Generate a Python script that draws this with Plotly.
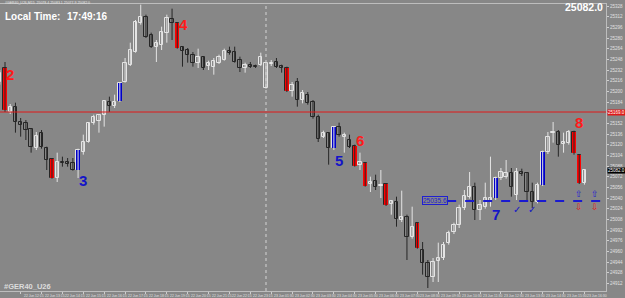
import plotly.graph_objects as go

# ---------------- data ----------------
bar_index = list(range(-1, 112))

open_ = [25214, 25235, 25169, 25177, 25154, 25152, 25144, 25115, 25138, 25115,
         25099, 25070, 25094, 25094, 25092, 25082, 25109, 25124, 25153, 25155,
         25165, 25184, 25178, 25186, 25214, 25240, 25259, 25303, 25312, 25285,
         25267, 25270, 25288, 25309, 25303, 25267, 25262, 25255, 25243, 25252,
         25238, 25237, 25243, 25247, 25261, 25259, 25247, 25235, 25240, 25238,
         25240, 25205, 25241, 25244, 25238, 25235, 25200, 25214, 25187, 25195,
         25184, 25162, 25132, 25138, 25115, 25147, 25132, 25127, 25118, 25090,
         25093, 25061, 25066, 25058, 25061, 25031, 25034, 25007, 25012, 24982,
         25003, 24962, 24943, 24922, 24946, 24950, 24973, 24989, 25000, 25025,
         25042, 25057, 25022, 25027, 25034, 25040, 25070, 25072, 25078, 25045,
         25079, 25078, 25049, 25034, 25060, 25109, 25138, 25139, 25121, 25123,
         25139, 25105, 25062]
high = [25232, 25244, 25181, 25183, 25160, 25157, 25145, 25139, 25142, 25117,
        25100, 25108, 25102, 25100, 25100, 25114, 25135, 25154, 25165, 25166,
        25187, 25192, 25195, 25214, 25250, 25273, 25307, 25330, 25315, 25288,
        25277, 25297, 25315, 25324, 25304, 25268, 25265, 25259, 25264, 25253,
        25246, 25250, 25255, 25264, 25267, 25267, 25252, 25243, 25244, 25240,
        25258, 25244, 25247, 25250, 25240, 25237, 25214, 25220, 25202, 25199,
        25187, 25165, 25141, 25139, 25148, 25153, 25138, 25135, 25120, 25108,
        25094, 25072, 25075, 25082, 25062, 25037, 25042, 25051, 25015, 25027,
        25004, 24974, 24947, 24950, 24973, 24974, 24991, 25003, 25030, 25052,
        25079, 25063, 25037, 25063, 25102, 25072, 25085, 25097, 25085, 25085,
        25084, 25079, 25063, 25063, 25111, 25139, 25154, 25142, 25138, 25142,
        25141, 25106, 25083]
low = [25210, 25169, 25166, 25138, 25132, 25127, 25108, 25112, 25114, 25082,
       25069, 25064, 25087, 25087, 25081, 25070, 25105, 25123, 25150, 25138,
       25147, 25169, 25175, 25184, 25213, 25238, 25258, 25300, 25280, 25265,
       25244, 25262, 25273, 25277, 25264, 25237, 25243, 25237, 25235, 25232,
       25232, 25225, 25241, 25246, 25255, 25243, 25229, 25228, 25235, 25235,
       25238, 25204, 25238, 25235, 25228, 25199, 25192, 25177, 25182, 25180,
       25159, 25124, 25130, 25090, 25112, 25132, 25108, 25115, 25087, 25082,
       25057, 25049, 25052, 25040, 25028, 25015, 24997, 25004, 24947, 24979,
       24964, 24925, 24905, 24914, 24914, 24947, 24970, 24986, 24995, 25022,
       25039, 25007, 25007, 25024, 25027, 25037, 25067, 25069, 25042, 25037,
       25073, 25037, 25025, 25032, 25058, 25106, 25123, 25102, 25108, 25120,
       25105, 25061, 25060]
close = [25228, 25172, 25177, 25154, 25150, 25142, 25117, 25133, 25117, 25097,
         25070, 25094, 25092, 25091, 25082, 25112, 25124, 25153, 25162, 25165,
         25186, 25178, 25184, 25213, 25243, 25262, 25304, 25312, 25282, 25267,
         25273, 25289, 25310, 25303, 25265, 25261, 25255, 25243, 25252, 25235,
         25243, 25246, 25252, 25261, 25258, 25244, 25235, 25240, 25237, 25237,
         25252, 25243, 25243, 25237, 25235, 25200, 25210, 25187, 25198, 25183,
         25162, 25128, 25138, 25115, 25147, 25135, 25135, 25117, 25088, 25094,
         25058, 25064, 25057, 25060, 25030, 25036, 25009, 25012, 24982, 24997,
         24965, 24943, 24922, 24944, 24950, 24970, 24988, 25000, 25025, 25043,
         25057, 25022, 25030, 25040, 25040, 25070, 25079, 25078, 25057, 25079,
         25076, 25049, 25034, 25060, 25109, 25132, 25139, 25120, 25124, 25139,
         25108, 25062, 25082]

red_bars = [0, 9, 33, 54, 67, 69, 73, 79, 109, 110]
blue_bars = [14, 22, 63, 94, 103]

sig_text = ["2", "3", "4", "5", "6", "7", "8"]
sig_bar = [1, 15, 34.2, 64, 68, 94, 110]
sig_price = [25226, 25066, 25301, 25097, 25126, 25015, 25154]

resistance_level = 25169.0
entry_level = 25035.6
current_price = 25082.0
local_time = "17:49:16"
symbol = "#GER40_U26"

check_bars = [98, 101]
check_price = 25023
arrow_bars = [110, 113]
arrow_up_price = 25046
arrow_down_price = 25026

price_ticks = [25328, 25312, 25296, 25280, 25264, 25248, 25232, 25216, 25200,
               25184, 25168, 25152, 25136, 25120, 25104, 25088, 25072, 25056,
               25040, 25024, 25008, 24992, 24976, 24960, 24944, 24928, 24912]
price_tick_labels = ["25328", "25312", "25296", "25280", "25264", "25248", "25232",
                     "25216", "25200", "25184", "", "25152", "25136", "25120",
                     "25104", "25088", "25072", "25056", "25040", "25024", "25008",
                     "24992", "24976", "24960", "24944", "24928", "24912"]

time_tick_bars = [-1, 3, 7, 11, 15, 19, 23, 27, 31, 35, 39, 43, 47, 51, 55, 59,
                  63, 67, 71, 75, 79, 83, 87, 91, 95, 99, 103, 107, 111]
time_tick_labels = ["22 Jun 11:15", "22 Jun 12:15", "22 Jun 13:15", "22 Jun 14:15",
                    "22 Jun 15:15", "22 Jun 16:15", "22 Jun 17:15", "22 Jun 18:15",
                    "22 Jun 19:15", "22 Jun 20:15", "22 Jun 21:15", "22 Jun 22:15",
                    "22 Jun 23:15", "23 Jun 01:30", "23 Jun 02:30", "23 Jun 03:30",
                    "23 Jun 04:30", "23 Jun 05:30", "23 Jun 06:30", "23 Jun 07:30",
                    "23 Jun 08:30", "23 Jun 09:30", "23 Jun 10:30", "23 Jun 11:30",
                    "23 Jun 12:30", "23 Jun 13:30", "23 Jun 14:30", "23 Jun 15:30",
                    "23 Jun 16:30"]
day_separator_bar = 50

# ---------------- style ----------------
BG = "#878787"
BULL = "#e4e4e4"
BEAR = "#262626"
RED = "#ff0000"
BLUE = "#0000c8"
LBL_RED = "#ff1a1a"
LBL_BLUE = "#1414c8"
FONT = "Liberation Sans, Arial, sans-serif"

fig = go.Figure()

# wicks
for bull in (True, False):
    xs, ys = [], []
    for i, o, h, l, c in zip(bar_index, open_, high, low, close):
        if (c >= o) == bull:
            xs += [i, i, None]
            ys += [l, h, None]
    fig.add_trace(go.Scatter(x=xs, y=ys, mode="lines",
                             line=dict(color=BULL if bull else BEAR, width=1),
                             hoverinfo="skip", showlegend=False))

# hollow bodies
for bull in (True, False):
    bx, bb, bh = [], [], []
    for i, o, c in zip(bar_index, open_, close):
        if (c >= o) == bull:
            bx.append(i)
            bb.append(min(o, c))
            bh.append(max(abs(c - o), 0.6))
    fig.add_trace(go.Bar(x=bx, y=bh, base=bb, width=0.64,
                         marker=dict(color=BG, line=dict(color=BULL if bull else BEAR, width=1)),
                         hoverinfo="skip", showlegend=False))

# highlighted bars
for bars, col in ((red_bars, RED), (blue_bars, BLUE)):
    hx, hb, hh = [], [], []
    for k in bars:
        j = bar_index.index(k)
        hx.append(k)
        hb.append(min(open_[j], close[j]))
        hh.append(abs(close[j] - open_[j]))
    fig.add_trace(go.Bar(x=hx, y=hh, base=hb, width=0.7,
                         marker=dict(color=col, line=dict(width=0)),
                         hoverinfo="skip", showlegend=False))

x_lo, x_hi = -0.958, 115.13
y_lo, y_hi = 24900.5, 25331

shapes = [
    dict(type="line", xref="x", yref="paper", x0=day_separator_bar, x1=day_separator_bar,
         y0=0, y1=1, line=dict(color="#d4d4d4", width=1, dash="dot")),
    dict(type="line", xref="paper", yref="y", x0=0, x1=1, y0=resistance_level,
         y1=resistance_level, line=dict(color="#e01818", width=1)),
    dict(type="line", xref="x", yref="y", x0=84.7, x1=x_hi, y0=entry_level,
         y1=entry_level, line=dict(color="#1a1ad0", width=2, dash="dash")),
]

annotations = []
for t, b, p in zip(sig_text, sig_bar, sig_price):
    col = LBL_RED if int(t) % 2 == 0 else LBL_BLUE
    annotations.append(dict(x=b, y=p, xref="x", yref="y", text="<b>%s</b>" % t,
                            showarrow=False, font=dict(family=FONT, size=15, color=col)))

for b in check_bars:
    annotations.append(dict(x=b, y=check_price, xref="x", yref="y", text="✓",
                            showarrow=False, font=dict(family="DejaVu Sans", size=10, color=LBL_BLUE)))
for b in arrow_bars:
    annotations.append(dict(x=b, y=arrow_up_price, xref="x", yref="y", text="⇧",
                            showarrow=False, font=dict(family="DejaVu Sans", size=9, color="#2020d0")))
    annotations.append(dict(x=b, y=arrow_down_price, xref="x", yref="y", text="⇩",
                            showarrow=False, font=dict(family="DejaVu Sans", size=9, color="#e02020")))

annotations.append(dict(x=82.3, y=entry_level, xref="x", yref="y", text="%.1f" % entry_level,
                        showarrow=False, bordercolor="#2020d0", borderwidth=1, borderpad=0,
                        bgcolor=BG, font=dict(family=FONT, size=6.5, color="#2020d0")))

# top texts
annotations += [
    dict(x=0.005, y=0.957, xref="paper", yref="paper", xanchor="left", yanchor="middle",
         text="<b>Local Time:</b>", showarrow=False, font=dict(family=FONT, size=10, color="white")),
    dict(x=0.107, y=0.957, xref="paper", yref="paper", xanchor="left", yanchor="middle",
         text="<b>%s</b>" % local_time, showarrow=False, font=dict(family=FONT, size=10, color="white")),
    dict(x=0.999, y=0.989, xref="paper", yref="paper", xanchor="right", yanchor="middle",
         text="<b>%.1f</b>" % current_price, showarrow=False, font=dict(family=FONT, size=10.5, color="white")),
    dict(x=0.003, y=0.016, xref="paper", yref="paper", xanchor="left", yanchor="middle",
         text="<b>%s</b>" % symbol, showarrow=False, font=dict(family=FONT, size=7.5, color="#dcdcdc")),
    dict(x=0.005, y=1.0, xref="paper", yref="paper", xanchor="left", yanchor="middle",
         yshift=1, text="%s,M15  25078.4 25083.1 25077.9 25082.0" % symbol, showarrow=False,
         font=dict(family=FONT, size=3.5, color="#e8e8e8")),
]

# price-axis boxes
annotations += [
    dict(x=1.0, y=resistance_level, xref="paper", yref="y", xanchor="left", xshift=1,
         text="%.1f" % resistance_level, showarrow=False, bgcolor="#e01818", borderpad=0,
         font=dict(family=FONT, size=4.5, color="white")),
    dict(x=1.0, y=current_price, xref="paper", yref="y", xanchor="left", xshift=1,
         text="%.1f" % current_price, showarrow=False, bgcolor="#000000", borderpad=0,
         font=dict(family=FONT, size=4.5, color="white")),
]

# time labels
for b, t in zip(time_tick_bars, time_tick_labels):
    annotations.append(dict(x=b, y=0, xref="x", yref="paper", xanchor="left", yanchor="top",
                            yshift=-1, xshift=1, text=t, showarrow=False,
                            font=dict(family=FONT, size=3.4, color="#e0e0e0")))

fig.update_layout(
    width=625, height=298,
    margin=dict(l=0, r=19, t=4, b=7),
    paper_bgcolor=BG, plot_bgcolor=BG,
    barmode="overlay", bargap=0,
    showlegend=False,
    shapes=shapes, annotations=annotations,
    xaxis=dict(range=[x_lo, x_hi], showgrid=False, zeroline=False, showline=True,
               linecolor="#bdbdbd", linewidth=1, mirror=True,
               tickvals=time_tick_bars, showticklabels=False, ticks="outside",
               ticklen=2, tickcolor="#cfcfcf"),
    yaxis=dict(range=[y_lo, y_hi], side="right", showgrid=False, zeroline=False,
               showline=True, linecolor="#bdbdbd", linewidth=1, mirror=True,
               tickvals=price_ticks, ticktext=price_tick_labels, ticks="outside",
               ticklen=2, tickcolor="#cfcfcf",
               tickfont=dict(family=FONT, size=4.5, color="#e0e0e0")),
)

fig.write_html("out.html")
